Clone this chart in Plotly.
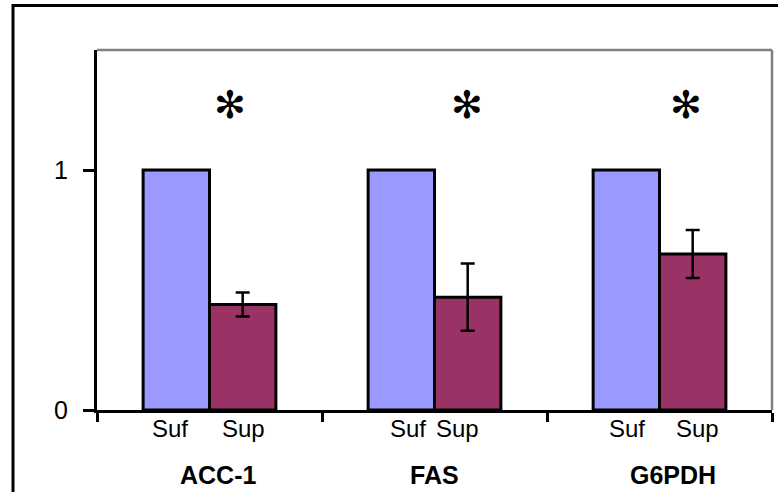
import plotly.graph_objects as go

# Relative expression, normalised to the Suf condition
genes = ["ACC-1", "FAS", "G6PDH"]
suf_values = [1.0, 1.0, 1.0]
sup_values = [0.44, 0.47, 0.65]
sup_errors = [0.05, 0.14, 0.10]
significant = [True, True, True]

y_tickvals = [0, 1]
y_ticktext = ["0", "1"]

SUF_COLOR = "#9999FF"
SUP_COLOR = "#993366"
FONT = "Arial, Liberation Sans"

x = list(range(len(genes)))

fig = go.Figure()
fig.add_trace(go.Bar(
    x=x, y=suf_values, name="Suf",
    marker=dict(color=SUF_COLOR, line=dict(color="black", width=3)),
))
fig.add_trace(go.Bar(
    x=x, y=sup_values, name="Sup",
    marker=dict(color=SUP_COLOR, line=dict(color="black", width=3)),
    error_y=dict(type="data", array=sup_errors, visible=True,
                 color="black", thickness=2.5, width=7),
))

# Small per-group nudges of the condition labels under the bars
suf_label_dx = [-0.176, -0.118, -0.144]
sup_label_dx = [0.149, 0.104, 0.171]
gene_label_dx = [0.036, 0.0, 0.058]
star_dx = [0.091, 0.144, 0.118]

annotations = []
for i, g in enumerate(genes):
    annotations.append(dict(x=i + suf_label_dx[i], y=-0.05, xref="x", yref="paper",
                            text="Suf", showarrow=False, yanchor="middle",
                            font=dict(family=FONT, size=24, color="black")))
    annotations.append(dict(x=i + sup_label_dx[i], y=-0.05, xref="x", yref="paper",
                            text="Sup", showarrow=False, yanchor="middle",
                            font=dict(family=FONT, size=24, color="black")))
    annotations.append(dict(x=i + gene_label_dx[i], y=-0.18, xref="x", yref="paper",
                            text="<b>%s</b>" % g, showarrow=False, yanchor="middle",
                            font=dict(family=FONT, size=25, color="black")))
    if significant[i]:
        annotations.append(dict(x=i + star_dx[i], y=1.27, xref="x", yref="y",
                                text="✻", showarrow=False, yanchor="middle",
                                font=dict(family="DejaVu Sans", size=38, color="black")))

shapes = [
    # outer chart frame
    dict(type="rect", xref="paper", yref="paper",
         x0=(13 - 97) / 675, x1=(800 - 97) / 675,
         y0=(410 - 520) / 360, y1=(410 - 5.5) / 360,
         line=dict(color="black", width=3), fillcolor="rgba(0,0,0,0)", layer="below"),
    # grey top and right plot-area edges
    dict(type="line", xref="paper", yref="paper", x0=0, x1=1, y0=1, y1=1,
         line=dict(color="#808080", width=2.5)),
    dict(type="line", xref="paper", yref="paper", x0=1, x1=1, y0=0, y1=1,
         line=dict(color="#808080", width=2.5)),
]

fig.update_layout(
    width=778, height=492,
    margin=dict(l=97, r=6, t=50, b=82),
    paper_bgcolor="white", plot_bgcolor="white",
    barmode="group", bargap=0.41, bargroupgap=0,
    showlegend=False,
    annotations=annotations,
    shapes=shapes,
    xaxis=dict(
        range=[-0.5, len(genes) - 0.5],
        tickvals=[i - 0.5 for i in range(len(genes) + 1)],
        ticktext=[""] * (len(genes) + 1),
        ticks="outside", ticklen=9, tickwidth=3, tickcolor="black",
        showline=True, linecolor="black", linewidth=3,
        showgrid=False, zeroline=False, fixedrange=True,
    ),
    yaxis=dict(
        range=[0, 1.5],
        tickvals=y_tickvals, ticktext=y_ticktext,
        ticks="outside", ticklen=11, tickwidth=3, tickcolor="black",
        ticklabelstandoff=10,
        tickfont=dict(family=FONT, size=25, color="black"),
        showline=True, linecolor="black", linewidth=3,
        showgrid=False, zeroline=False, fixedrange=True,
    ),
)

fig.write_html("out.html")
